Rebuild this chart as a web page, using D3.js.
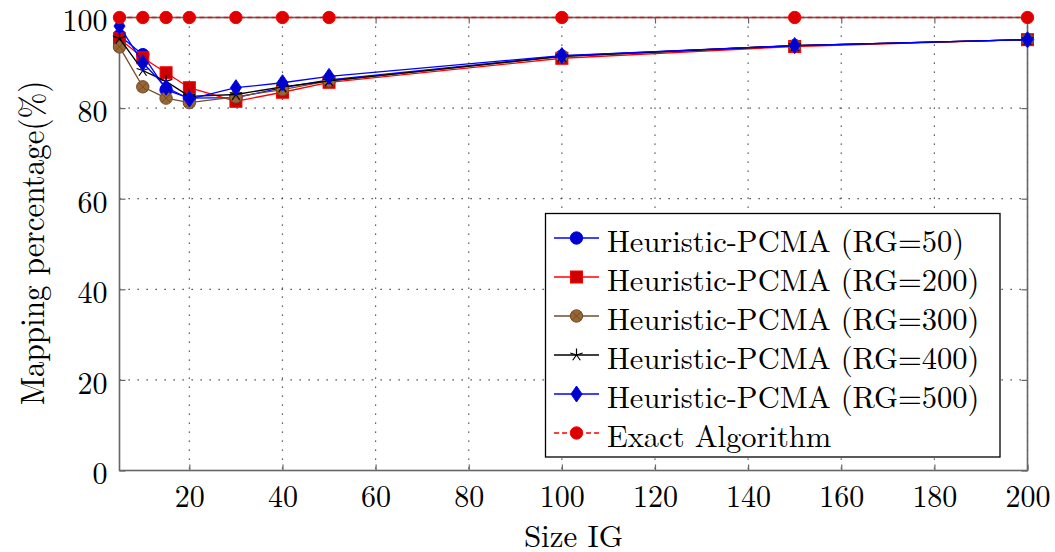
<!DOCTYPE html>
<html>
<head>
<meta charset="utf-8">
<script src="https://cdn.jsdelivr.net/npm/d3@7"></script>
<style>
  html, body { margin: 0; padding: 0; background: #fff; }
  svg { display: block; }
</style>
</head>
<body>
<svg id="chart" width="1055" height="552"></svg>
<script>
// IG sizes on the x axis
const sizes = [5, 10, 15, 20, 30, 40, 50, 100, 150, 200];

// mapping percentage for each configuration
const rg50  = [96.0, 91.8, 84.0, 82.2, 82.3, 84.5, 86.2, 91.5, 93.8, 95.1];
const rg200 = [95.3, 91.1, 87.8, 84.5, 81.5, 83.5, 85.7, 91.0, 93.6, 95.1];
const rg300 = [93.5, 84.7, 82.2, 81.2, 82.5, 84.1, 86.0, 91.4, 93.8, 95.1];
const rg400 = [95.4, 88.3, 85.9, 82.6, 83.0, 84.7, 86.0, 91.4, 93.8, 95.1];
const rg500 = [98.1, 90.0, 84.6, 82.0, 84.5, 85.6, 87.0, 91.6, 93.8, 95.1];
const exact = [100, 100, 100, 100, 100, 100, 100, 100, 100, 100];

const seriesNames = [
  "Heuristic-PCMA (RG=50)",
  "Heuristic-PCMA (RG=200)",
  "Heuristic-PCMA (RG=300)",
  "Heuristic-PCMA (RG=400)",
  "Heuristic-PCMA (RG=500)",
  "Exact Algorithm"
];

const xTicks = [20, 40, 60, 80, 100, 120, 140, 160, 180, 200];
const yTicks = [0, 20, 40, 60, 80, 100];

const FONT = "'Latin Modern Roman', 'Liberation Serif', serif";
const STRETCH = 1.05; // axis glyphs are drawn slightly taller than wide

const styles = [
  { values: rg50,  line: "#0000ff", fill: "#0000cc", edge: "#0000ff", mark: "circle" },
  { values: rg200, line: "#ff0000", fill: "#cc0000", edge: "#ff0000", mark: "square" },
  { values: rg300, line: "#734d26", fill: "#996633", edge: "#734d26", mark: "otimes" },
  { values: rg400, line: "#000000", fill: "none",    edge: "#000000", mark: "star" },
  { values: rg500, line: "#0000ff", fill: "#0000cc", edge: "#0000ff", mark: "diamond" },
  { values: exact, line: "#ff0000", fill: "#dd0000", edge: "#ff0000", mark: "circle", dash: "5,3" }
];

const svg = d3.select("#chart");
const plotL = 119.5, plotR = 1027.5, plotT = 17.5, plotB = 470.5;

const x = d3.scaleLinear().domain([5, 200]).range([plotL, plotR]);
const y = d3.scaleLinear().domain([0, 100]).range([plotB, plotT]);

// dotted grid
const grid = svg.append("g");
grid.selectAll("line.gx").data(xTicks).join("line")
  .attr("x1", d => x(d)).attr("x2", d => x(d))
  .attr("y1", plotT).attr("y2", plotB)
  .attr("stroke", "#333").attr("stroke-width", 1.2)
  .attr("stroke-dasharray", "1.3,7.7");
grid.selectAll("line.gy").data(yTicks).join("line")
  .attr("y1", d => y(d)).attr("y2", d => y(d))
  .attr("x1", plotL).attr("x2", plotR)
  .attr("stroke", "#333").attr("stroke-width", 1.2)
  .attr("stroke-dasharray", "1.3,7.7");

// axes (ticks drawn inward on all sides)
const tickLen = 6;
function styleAxis(g) {
  g.select(".domain").remove();
  g.attr("font-family", null).attr("font-size", null);
  g.selectAll(".tick line").attr("stroke", "#666").attr("stroke-width", 1.2);
  g.selectAll(".tick text").attr("dy", null).attr("x", null).attr("y", null)
    .attr("dominant-baseline", "central")
    .style("font-family", FONT).style("font-size", "30px").attr("fill", "#000");
}
const gxB = svg.append("g").attr("transform", `translate(0,${plotB})`)
  .call(d3.axisBottom(x).tickValues(xTicks).tickSize(-tickLen)).call(styleAxis);
gxB.selectAll(".tick text").attr("transform", `translate(0,23) scale(1,${STRETCH})`);
svg.append("g").attr("transform", `translate(0,${plotT})`)
  .call(d3.axisTop(x).tickValues(xTicks).tickSize(-tickLen).tickFormat("")).call(styleAxis);
const gyL = svg.append("g").attr("transform", `translate(${plotL},0)`)
  .call(d3.axisLeft(y).tickValues(yTicks).tickSize(-tickLen)).call(styleAxis);
gyL.selectAll(".tick text").attr("transform", `translate(-12,0) scale(1,${STRETCH})`);
svg.append("g").attr("transform", `translate(${plotR},0)`)
  .call(d3.axisRight(y).tickValues(yTicks).tickSize(-tickLen).tickFormat("")).call(styleAxis);

// frame
svg.append("rect").attr("x", plotL).attr("y", plotT)
  .attr("width", plotR - plotL).attr("height", plotB - plotT)
  .attr("fill", "none").attr("stroke", "#666").attr("stroke-width", 1.6);

// marker drawing
function drawMark(g, type, cx, cy, s) {
  if (type === "circle") {
    g.append("circle").attr("cx", cx).attr("cy", cy).attr("r", 6.2)
      .attr("fill", s.fill).attr("stroke", s.edge).attr("stroke-width", 1);
  } else if (type === "square") {
    g.append("rect").attr("x", cx - 6).attr("y", cy - 6).attr("width", 12).attr("height", 12)
      .attr("fill", s.fill).attr("stroke", s.edge).attr("stroke-width", 1);
  } else if (type === "otimes") {
    const r = 6.2, k = r * Math.SQRT1_2;
    g.append("circle").attr("cx", cx).attr("cy", cy).attr("r", r)
      .attr("fill", s.fill).attr("stroke", s.edge).attr("stroke-width", 1);
    g.append("path").attr("d", `M${cx - k},${cy - k}L${cx + k},${cy + k}M${cx - k},${cy + k}L${cx + k},${cy - k}`)
      .attr("stroke", s.edge).attr("stroke-width", 1);
  } else if (type === "star") {
    let d = "";
    for (let i = 0; i < 5; i++) {
      const a = -Math.PI / 2 + i * 2 * Math.PI / 5;
      d += `M${cx},${cy}L${cx + 6.5 * Math.cos(a)},${cy + 6.5 * Math.sin(a)}`;
    }
    g.append("path").attr("d", d).attr("stroke", s.edge).attr("stroke-width", 1.2).attr("fill", "none");
  } else if (type === "diamond") {
    g.append("path").attr("d", `M${cx},${cy - 8}L${cx + 5.5},${cy}L${cx},${cy + 8}L${cx - 5.5},${cy}Z`)
      .attr("fill", s.fill).attr("stroke", s.edge).attr("stroke-width", 1);
  }
}

const lineGen = d3.line().x((d, i) => x(sizes[i])).y(d => y(d));

const plotG = svg.append("g");
styles.forEach(s => {
  const g = plotG.append("g");
  g.append("path").datum(s.values).attr("d", lineGen)
    .attr("fill", "none").attr("stroke", s.line).attr("stroke-width", 1.3)
    .attr("stroke-dasharray", s.dash || null);
  s.values.forEach((v, i) => drawMark(g, s.mark, x(sizes[i]), y(v), s));
});

// legend
const lg = svg.append("g");
const lgX = 545.5, lgY = 213.5, lgW = 454.5, lgH = 243.5;
lg.append("rect").attr("x", lgX).attr("y", lgY).attr("width", lgW).attr("height", lgH)
  .attr("fill", "#fff").attr("stroke", "#000").attr("stroke-width", 1.3);
const rowY = d3.scaleLinear().domain([0, 5]).range([238, 433]);
styles.forEach((s, i) => {
  const cy = rowY(i);
  lg.append("line").attr("x1", 554).attr("x2", 599).attr("y1", cy).attr("y2", cy)
    .attr("stroke", s.line).attr("stroke-width", 1.3).attr("stroke-dasharray", s.dash || null);
  drawMark(lg, s.mark, 576.5, cy, s);
  lg.append("text").attr("x", 607).attr("y", cy + 1)
    .attr("dominant-baseline", "central")
    .style("font-family", FONT).style("font-size", "30.5px").text(seriesNames[i]);
});

// axis titles
svg.append("text").attr("x", (plotL + plotR) / 2).attr("y", 534)
  .attr("text-anchor", "middle").attr("dominant-baseline", "central")
  .style("font-family", FONT).style("font-size", "31px").text("Size IG");
svg.append("text").attr("transform", `translate(29,${(plotT + plotB) / 2 - 1}) rotate(-90) scale(1,1.1)`)
  .attr("text-anchor", "middle").attr("dominant-baseline", "central")
  .style("font-family", FONT).style("font-size", "31px").text("Mapping percentage(%)");
</script>
</body>
</html>
